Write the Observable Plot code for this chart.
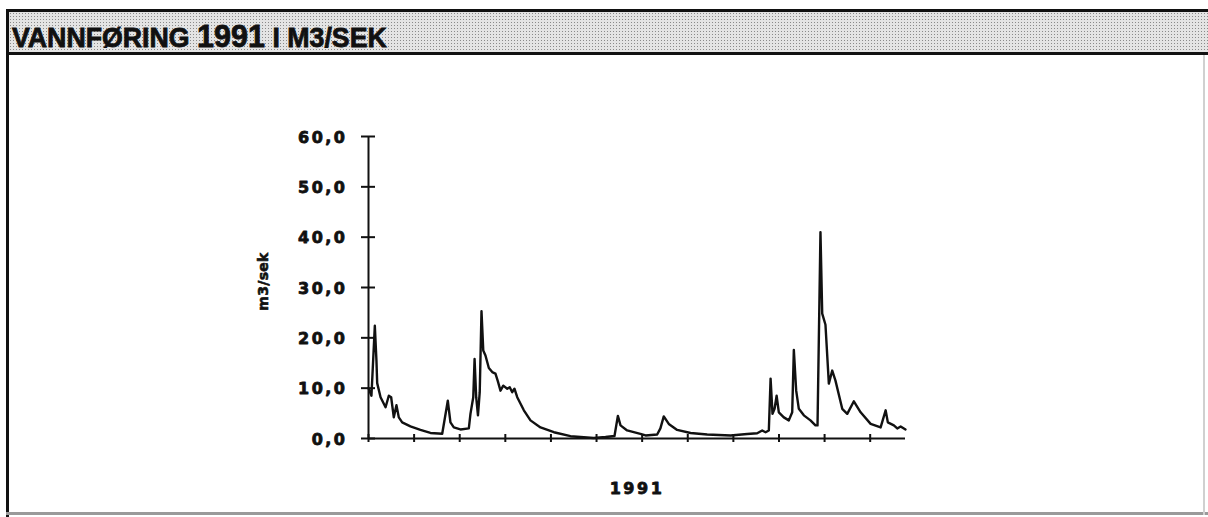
<!DOCTYPE html>
<html><head><meta charset="utf-8">
<script src="https://cdn.jsdelivr.net/npm/d3@7"></script>
<script src="https://cdn.jsdelivr.net/npm/@observablehq/plot@0.6"></script>
<style>
html,body{margin:0;padding:0;background:#fff;}
#wrap{position:relative;width:1208px;height:517px;overflow:hidden;background:#fff;}
#band{position:absolute;left:6px;top:9px;width:1202px;height:46px;box-sizing:border-box;border-top:3px solid #111;border-bottom:3px solid #111;
  background-color:#e4e4e4;background-image:radial-gradient(#8a8a8a 0.7px, transparent 0.9px);background-size:3px 3px;}
#lb{position:absolute;left:6px;top:9px;width:3px;height:508px;background:#111;}
#bb{position:absolute;left:6px;top:512px;width:1202px;height:3px;background:#9a9a9a;}
#rb{position:absolute;left:1203px;top:55px;width:2px;height:460px;background:#d0d0d0;}
#titlesvg{position:absolute;left:0;top:0;}
#chart{position:absolute;left:0;top:0;}
</style>
</head><body>
<div id="wrap">
  <div id="band"></div>
  <div id="lb"></div>
  <div id="bb"></div>
  <div id="rb"></div>
  <svg id="titlesvg" width="1208" height="60"></svg>
  <div id="chart"></div>
</div>
<script>
// ---- data (day of year 1991, discharge m3/s) ----
const days = [0,2.0,4.3,5.4,5.9,8.2,11.6,13.8,15.4,17.2,19.0,20.6,22.9,28.5,35.3,42.1,50.1,53.9,55.7,58.0,62.5,68.2,69.3,71.2,72.1,73.2,74.4,75.6,76.8,78.0,79.5,81.8,84.1,86.3,87.9,89.7,91.6,94.3,96.0,97.7,99.2,101.1,105.6,110.1,116.9,126.0,137.3,153.1,161.1,167.2,169.5,171.3,175.8,184.8,188.3,196.2,198.4,200.7,204.1,209.8,218.9,230.2,246.1,257.4,264.2,267.6,269.9,272.1,273.3,274.6,276.0,277.4,278.9,282.3,285.7,288.0,289.1,290.7,292.5,295.9,300.4,303.8,305.2,307.2,308.4,310.6,312.9,315.2,317.4,322.0,325.4,329.9,334.5,341.3,348.1,351.5,353.0,357.1,359.4,361.7,365];
const flow = [10.0,8.5,22.4,15.5,11.0,8.2,6.2,8.5,8.2,4.2,6.6,4.2,3.2,2.4,1.7,1.1,0.93,7.5,3.2,2.2,1.8,2.0,4.9,8.2,15.8,8.2,4.6,9.2,25.3,17.5,16.5,14.0,13.2,12.9,11.4,9.5,10.5,9.9,10.2,9.2,9.9,8.2,5.6,3.6,2.2,1.25,0.46,0.1,0.3,0.5,4.5,2.6,1.6,0.93,0.6,0.8,2.0,4.4,2.9,1.7,1.1,0.8,0.6,0.9,1.05,1.6,1.25,1.6,11.9,4.9,5.9,8.5,5.2,4.2,3.6,5.2,17.6,9.5,5.9,4.6,3.6,2.6,2.6,41.0,24.8,22.6,10.9,13.5,11.5,5.9,4.9,7.4,5.2,2.9,2.2,5.6,3.2,2.6,2.0,2.4,1.8];
const yTicks = [0,10,20,30,40,50,60];
const xTicks = [0,31,62,93,124,155,186,217,248,279,310,341];
const yLabel = "m3/sek";
const xLabel = "1991";
const titleParts = ["VANNFØRING ", "1991", " I M3/SEK"];

const data = days.map((d, i) => ({day: d, flow: flow[i]}));

// ---- title ----
const tsvg = d3.select("#titlesvg");
const tt = tsvg.append("text")
  .attr("x", 12).attr("y", 47)
  .attr("font-family", "'Liberation Sans', Arial, sans-serif")
  .attr("font-weight", "bold").attr("font-size", 28).attr("fill", "#111")
  .attr("stroke", "#111").attr("stroke-width", 0.8);
tt.append("tspan").text(titleParts[0]);
tt.append("tspan").attr("font-size", 32).text(titleParts[1]);
tt.append("tspan").text(titleParts[2]);
const tw = tt.node().getComputedTextLength();
const sx = 375 / tw;
tt.attr("transform", `translate(12,0) scale(${sx},1) translate(-12,0)`);

// ---- chart ----
const ink = "#111";
const font = "DejaVu Sans";
const chart = Plot.plot({
  width: 1208, height: 517,
  marginLeft: 368, marginRight: 303, marginTop: 136, marginBottom: 79,
  x: {domain: [0, 365], axis: null},
  y: {domain: [0, 60], axis: null},
  style: {fontFamily: font, fontWeight: "bold", fontSize: "16px", letterSpacing: "2.5px", color: ink, background: "transparent"},
  marks: [
    Plot.line(data, {x: "day", y: "flow", stroke: ink, strokeWidth: 2.4, strokeLinejoin: "round"}),
    Plot.ruleX([0], {y1: 0, y2: 60, stroke: ink, strokeWidth: 2}),
    Plot.ruleY([0], {x1: 0, x2: 365, stroke: ink, strokeWidth: 2}),
    Plot.ruleY(yTicks, {y: d => d, x1: 0, x2: 0, insetLeft: -7, insetRight: -7, stroke: ink, strokeWidth: 2}),
    Plot.ruleX(xTicks, {x: d => d, y1: 0, y2: 0, insetTop: -4, insetBottom: -4, stroke: ink, strokeWidth: 2}),
    Plot.text(yTicks, {x: 0, y: d => d, text: d => d.toFixed(1).replace(".", ","), textAnchor: "end", lineAnchor: "middle", dx: -21, dy: 1, fill: ink, stroke: ink, strokeWidth: 0.8, fontFamily: font, fontWeight: "bold", fontSize: 16}),
    Plot.text([yLabel], {frameAnchor: "left", textAnchor: "middle", rotate: -90, lineAnchor: "middle", dx: -105, dy: -6, fontSize: 14, fill: ink, stroke: ink, strokeWidth: 0.6, fontFamily: font, fontWeight: "bold"}),
    Plot.text([xLabel], {frameAnchor: "bottom", textAnchor: "middle", lineAnchor: "middle", dy: 50, fill: ink, stroke: ink, strokeWidth: 0.8, fontFamily: font, fontWeight: "bold", fontSize: 16})
  ]
});
document.getElementById("chart").appendChild(chart);
d3.select(chart).selectAll("text").filter(function() { return this.textContent === yLabel; }).style("letter-spacing", "0.3px");
</script>
</body></html>
